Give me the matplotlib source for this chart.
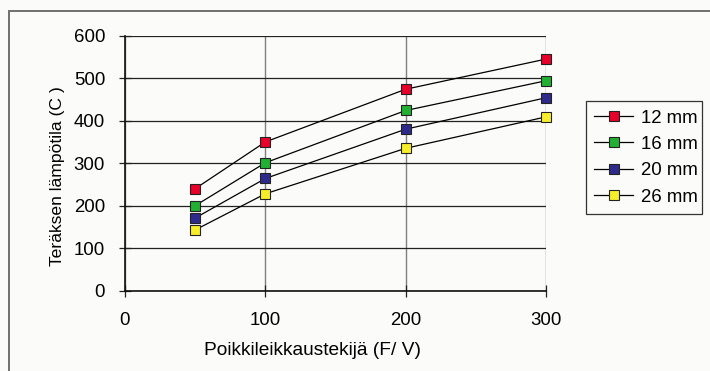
import matplotlib
matplotlib.use("Agg")
import matplotlib.pyplot as plt
from matplotlib.patches import Rectangle

plt.rcParams['font.family'] = ['Liberation Sans', 'DejaVu Sans']

x_values = [50, 100, 200, 300]
series_labels = ["12 mm", "16 mm", "20 mm", "26 mm"]
temps_12 = [240, 350, 474, 545]
temps_16 = [200, 301, 424, 494]
temps_20 = [171, 264, 380, 454]
temps_26 = [143, 228, 335, 409]
colors = ["#e8002a", "#22b033", "#2e2a8c", "#f7ee2a"]
x_ticks = [0, 100, 200, 300]
y_ticks = [0, 100, 200, 300, 400, 500, 600]

bg = "#fbfbf9"
W, H = 710, 371
FS = 13.4
fig = plt.figure(figsize=(W / 100, H / 100), dpi=100, facecolor=bg)

# outer frame
fig.patches.append(Rectangle((9 / W, -0.1), 1.1, 1 - 11 / H + 0.1, transform=fig.transFigure,
                             fill=False, edgecolor="#707070", linewidth=1.4, zorder=0))

left, right = 125 / W, 546 / W
top, bottom = 1 - 35.7 / H, 1 - 290.7 / H
ax = fig.add_axes([left, bottom, right - left, top - bottom])
ax.set_facecolor(bg)

for vals, c, lab in zip([temps_12, temps_16, temps_20, temps_26], colors, series_labels):
    ax.plot(x_values, vals, color="black", linewidth=0.9, marker="s", markersize=7.2,
            markerfacecolor=c, markeredgecolor="#222222", markeredgewidth=0.8,
            label=lab, zorder=3, clip_on=False)

ax.set_xlim(0, 300)
ax.set_ylim(0, 600)
ax.set_xticks(x_ticks)
ax.set_yticks(y_ticks)
ax.grid(axis="y", color="#222222", linewidth=0.9, zorder=1)
ax.grid(axis="x", color="#808080", linewidth=1.0, zorder=1)
ax.set_axisbelow(True)
for s in ["top", "right"]:
    ax.spines[s].set_visible(False)
for s in ["left", "bottom"]:
    ax.spines[s].set_color("#111111")
    ax.spines[s].set_linewidth(1.2)
ax.tick_params(direction="inout", length=8.6, width=0.9, color="#222222", labelsize=FS)
ax.tick_params(axis="x", pad=11)
ax.tick_params(axis="y", pad=10)

ax.set_xlabel("Poikkileikkaustekijä (F/ V)", fontsize=13.8)
ax.set_ylabel("Teräksen lämpötila (C )", fontsize=12.6)
ax.xaxis.set_label_coords((313 / W - left) / (right - left), -0.2)
ax.yaxis.set_label_coords(-0.1425, 0.45)

leg = ax.legend(loc="center", bbox_to_anchor=(585.7 / W, 1 - 216 / H, (702 - 585.7) / W, (216 - 99) / H),
                bbox_transform=fig.transFigure, mode="expand", frameon=True, fancybox=False,
                edgecolor="#333333", facecolor=bg, fontsize=FS, handlelength=2.1,
                labelspacing=0.5, borderpad=0.45, handletextpad=0.4, borderaxespad=0)
leg.get_frame().set_linewidth(0.9)
leg.get_frame().set_alpha(1)

fig.savefig("out.png", dpi=100, facecolor=bg)
